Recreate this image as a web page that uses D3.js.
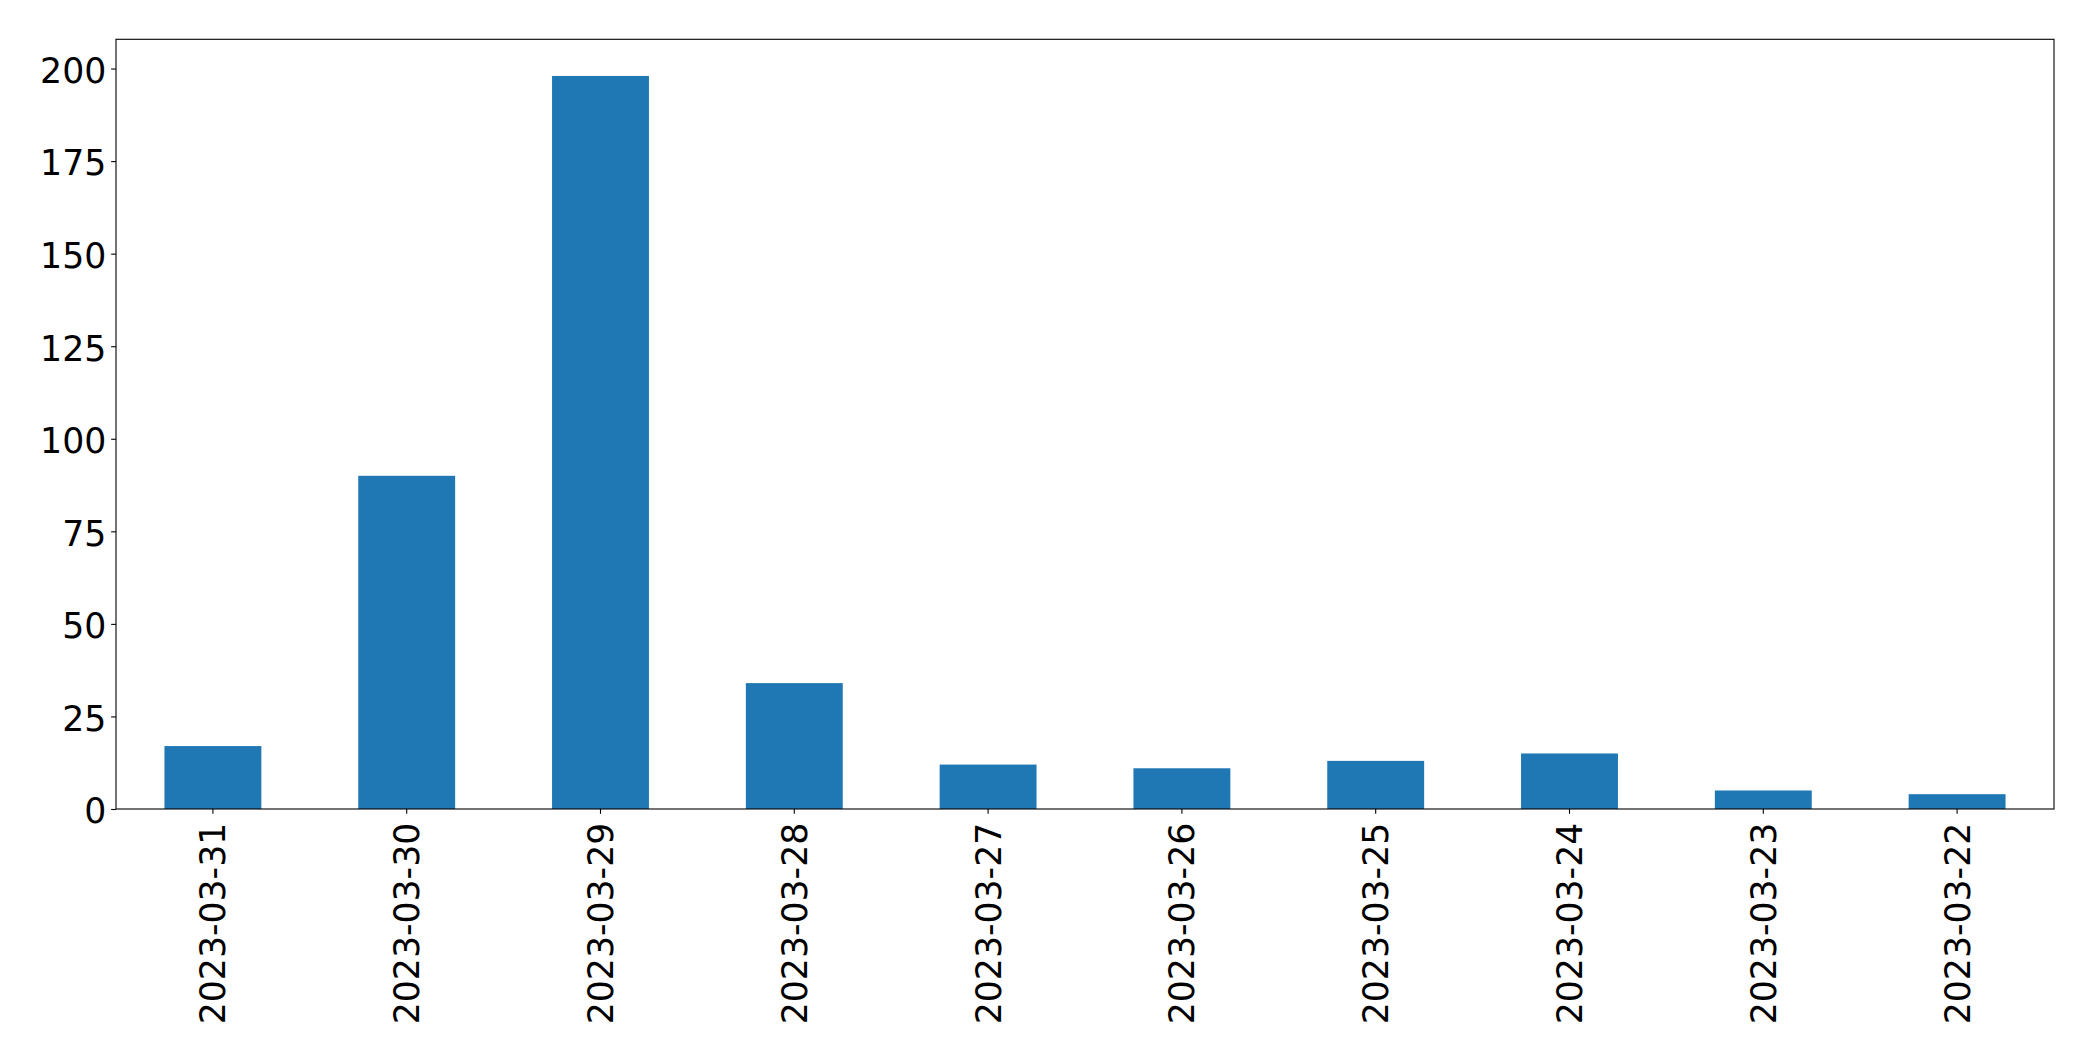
<!DOCTYPE html>
<html><head><meta charset="utf-8">
<script src="https://cdn.jsdelivr.net/npm/d3@7"></script>
<style>html,body{margin:0;padding:0;background:#fff;}svg{display:block;}</style>
</head><body>
<svg id="chart" width="2093" height="1061"></svg>
<script>
const categories = ["2023-03-31","2023-03-30","2023-03-29","2023-03-28","2023-03-27","2023-03-26","2023-03-25","2023-03-24","2023-03-23","2023-03-22"];
const values = [17, 90, 198, 34, 12, 11, 13, 15, 5, 4];
const yTicks = [0, 25, 50, 75, 100, 125, 150, 175, 200];

const svg = d3.select("#chart");
const m = {left: 116, right: 2054, top: 39.3, bottom: 809};
const fontSize = 34.7;
const tickLen = 4.86, pad = 4.86;

const x = d3.scaleBand().domain(categories).range([m.left, m.right]).paddingInner(0.5).paddingOuter(0.25);
const yMax = d3.max(values) * 1.05;
const y = d3.scaleLinear().domain([0, yMax]).range([m.bottom, m.top]);

svg.append("g").selectAll("rect").data(values).join("rect")
  .attr("x", (d, i) => x(categories[i]))
  .attr("width", x.bandwidth())
  .attr("y", d => y(d))
  .attr("height", d => y(0) - y(d))
  .attr("fill", "#1f77b4");

// frame
svg.append("rect").attr("x", m.left).attr("y", m.top)
  .attr("width", m.right - m.left).attr("height", m.bottom - m.top)
  .attr("fill", "none").attr("stroke", "#000").attr("stroke-width", 1.1);

// y axis
const yAxis = d3.axisLeft(y).tickValues(yTicks).tickSize(tickLen).tickPadding(pad).tickFormat(d3.format("d"));
const gy = svg.append("g").attr("transform", `translate(${m.left},0)`).call(yAxis);
gy.select(".domain").remove();
gy.selectAll(".tick line").attr("stroke", "#000").attr("stroke-width", 1.1);
gy.selectAll(".tick text").attr("font-family", "DejaVu Sans").attr("font-size", fontSize).attr("fill", "#000").attr("dy", "0.40em");

// x axis
const xAxis = d3.axisBottom(x).tickSize(tickLen).tickPadding(pad);
const gx = svg.append("g").attr("transform", `translate(0,${m.bottom})`).call(xAxis);
gx.select(".domain").remove();
gx.selectAll(".tick line").attr("stroke", "#000").attr("stroke-width", 1.1);
gx.selectAll(".tick text")
  .attr("font-family", "DejaVu Sans").attr("font-size", fontSize).attr("fill", "#000")
  .attr("text-anchor", "end")
  .attr("transform", `translate(0,${tickLen + pad + 4}) rotate(-90)`)
  .attr("x", 0).attr("y", 0).attr("dy", "0.36em");
</script>
</body></html>
